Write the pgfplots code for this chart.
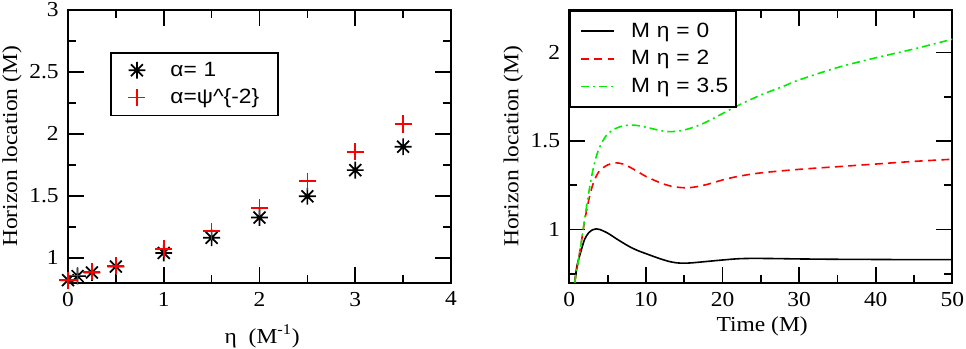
\documentclass[border=0pt]{standalone}
\usepackage{fontspec}
\setmainfont[FakeStretch=1.1]{Liberation Serif}
\newfontfamily\legfont[FakeStretch=1.1]{Liberation Sans}
\usepackage{pgfplots}
\pgfplotsset{compat=1.18}

% eight-armed asterisk, as in the reference
\pgfdeclareplotmark{ast8}{%
  \pgfpathmoveto{\pgfqpoint{-\pgfplotmarksize}{0pt}}\pgfpathlineto{\pgfqpoint{\pgfplotmarksize}{0pt}}%
  \pgfpathmoveto{\pgfqpoint{0pt}{-\pgfplotmarksize}}\pgfpathlineto{\pgfqpoint{0pt}{\pgfplotmarksize}}%
  \pgfpathmoveto{\pgfqpoint{-0.707\pgfplotmarksize}{-0.707\pgfplotmarksize}}\pgfpathlineto{\pgfqpoint{0.707\pgfplotmarksize}{0.707\pgfplotmarksize}}%
  \pgfpathmoveto{\pgfqpoint{-0.707\pgfplotmarksize}{0.707\pgfplotmarksize}}\pgfpathlineto{\pgfqpoint{0.707\pgfplotmarksize}{-0.707\pgfplotmarksize}}%
  \pgfusepathqstroke}

\definecolor{grn}{rgb}{0,0.93,0}
\newcommand\txtfont{\fontsize{16}{19}\selectfont}
\newcommand\tk[1]{{\txtfont #1}}

\pgfplotsset{
  xmgr/.style={
    width=287.25pt, height=204.5pt, scale only axis,
    axis line style={line width=1.5pt},
    every tick/.style={black, line width=1.3pt},
    major tick length=12pt, minor tick length=6pt,
    tick align=inside,
    tick label style={font=\txtfont},
    xticklabel style={inner sep=0pt, yshift=-6.75pt},
    yticklabel style={inner sep=0pt, xshift=-6.75pt},
    label style={font=\txtfont, inner sep=0pt},
    ylabel style={at={([xshift=-42pt]axis description cs:0,0.5)}, anchor=center},
  },
  markleg/.style={legend image code/.code={\path (0pt,0pt) (30pt,0pt); \draw[##1] plot coordinates {(15pt,0pt)};}},
  lineleg/.style={legend image code/.code={\path (0pt,0pt) (33pt,0pt); \draw[##1] (4.5pt,0pt) -- (29pt,0pt);}},
}

\begin{document}
\begin{tikzpicture}
\begin{axis}[xmgr,
    at={(0pt,0pt)}, anchor=south west,
    xmin=0, xmax=4, ymin=0.8, ymax=3,
    xtick={0,1,2,3,4}, minor xtick={0.5,1.5,2.5,3.5},
    xticklabels={\tk{0},\tk{1},\tk{2},\tk{3},\tk{4}},
    ytick={1,1.5,2,2.5,3}, minor ytick={1.25,1.75,2.25,2.75},
    yticklabels={\tk{1},\tk{1.5},\tk{2},\tk{2.5},\tk{3}},
    xlabel={η\ \ (M\textsuperscript{-1})},
    xlabel style={at={(axis description cs:0.5,0)}, anchor=north, yshift=-31.5pt, xshift=2pt},
    ylabel={Horizon location (M)},
    clip=false,
    legend style={draw=black, line width=1.2pt, fill=white,
      at={(0.1097,0.846)}, anchor=north west,
      font=\legfont\fontsize{15.5}{18}\selectfont,
      inner xsep=4pt, inner ysep=5.5pt, row sep=5pt, column sep=8pt,
      nodes={inner sep=1.5pt, text width=75pt}},
    legend cell align=left,
]
\addplot[black, only marks, mark=ast8, mark size=6.3pt, mark options={line width=1.3pt}, markleg]
  coordinates {
  (0,0.82) (0.1,0.853) (0.25,0.882) (0.5,0.930) (1,1.040)
  (1.5,1.162) (2,1.325) (2.5,1.497) (3,1.708) (3.5,1.897)
};
\addlegendentry{α= 1}
\addplot[color=red, only marks, mark=+, mark size=6.4pt, mark options={line width=1.3pt, draw=red}, markleg]
  coordinates {
  (0,0.82) (0.1,0.858) (0.25,0.888) (0.5,0.937) (1,1.072)
  (1.5,1.216) (2,1.405) (2.5,1.620) (3,1.857) (3.5,2.080)
};
\addlegendentry{α=ψ\^{}\{-2\}}
\end{axis}

\begin{axis}[xmgr,
    at={(376pt,0pt)}, anchor=south west,
    xmin=0, xmax=50, ymin=0.7, ymax=2.24,
    xtick={0,10,...,50}, minor xtick={5,15,...,45},
    xticklabels={\tk{0},\tk{10},\tk{20},\tk{30},\tk{40},\tk{50}},
    ytick={1,1.5,2}, minor ytick={0.75,1.25,1.75},
    yticklabels={\tk{1},\tk{1.5},\tk{2}},
    xlabel={Time (M)},
    xlabel style={at={(axis description cs:0.5,0)}, anchor=north, yshift=-25.5pt, xshift=1pt},
    ylabel={Horizon location (M)},
    legend style={draw=black, line width=1.2pt, fill=white,
      at={(0,1)}, anchor=north west,
      font=\legfont\fontsize{15.5}{18}\selectfont,
      inner xsep=3pt, inner ysep=7.5pt, row sep=5.5pt, column sep=7pt,
      nodes={inner sep=1.5pt, text width=74pt}},
    legend cell align=left,
]
\addplot[color=black, line width=1.2pt, smooth, lineleg] coordinates {
  (0.7,0.70) (1.0,0.795) (1.5,0.875) (2.0,0.945) (2.5,0.980) (3.0,0.998)
  (3.5,1.004) (4.0,1.000) (5.0,0.980) (6.0,0.952) (7.0,0.925) (8.0,0.900)
  (9.0,0.880) (10.0,0.864) (11.0,0.848) (12.0,0.833) (13.0,0.820) (14.0,0.812)
  (15.0,0.810) (16.0,0.812) (18.0,0.820) (20.0,0.828) (22.0,0.835) (24.0,0.837)
  (27.0,0.836) (30.0,0.834) (35.0,0.832) (40.0,0.831) (45.0,0.830) (50.0,0.830)
};
\addlegendentry{M η = 0}
\addplot[color=red, line width=1.2pt, dash pattern=on 6pt off 4pt, smooth, lineleg] coordinates {
  (0.7,0.70) (1.0,0.78) (1.5,0.91) (2.0,1.05) (2.5,1.16) (3.0,1.245)
  (3.5,1.30) (4.0,1.335) (5.0,1.365) (6.0,1.377) (7.0,1.370) (8.0,1.350)
  (9.0,1.325) (10.0,1.300) (11.0,1.280) (12.0,1.262) (13.0,1.248) (14.0,1.240)
  (15.0,1.236) (16.0,1.238) (17.0,1.245) (18.0,1.255) (20.0,1.280) (22.0,1.300)
  (25.0,1.320) (30.0,1.340) (35.0,1.355) (40.0,1.370) (45.0,1.385) (50.0,1.397)
};
\addlegendentry{M η = 2}
\addplot[color=grn, line width=1.2pt, dash pattern=on 6pt off 3pt on 1.5pt off 3pt, smooth, lineleg] coordinates {
  (0.7,0.70) (1.0,0.78) (1.5,0.91) (2.0,1.06) (2.5,1.20) (3.0,1.32)
  (3.5,1.41) (4.0,1.47) (4.5,1.51) (5.0,1.54) (6.0,1.57) (7.0,1.585)
  (8.0,1.590) (9.0,1.587) (10.0,1.578) (11.0,1.568) (12.0,1.558) (13.0,1.553)
  (14.0,1.555) (15.0,1.562) (16.0,1.575) (17.0,1.590) (18.0,1.610) (20.0,1.655)
  (22.0,1.700) (25.0,1.760) (28.0,1.810) (30.0,1.845) (35.0,1.915) (40.0,1.970)
  (45.0,2.020) (50.0,2.075)
};
\addlegendentry{M η = 3.5}
\end{axis}
\pgfresetboundingbox
\path[use as bounding box] (-51pt,-49.7pt) rectangle (673.5pt,212pt);
\end{tikzpicture}
\end{document}
